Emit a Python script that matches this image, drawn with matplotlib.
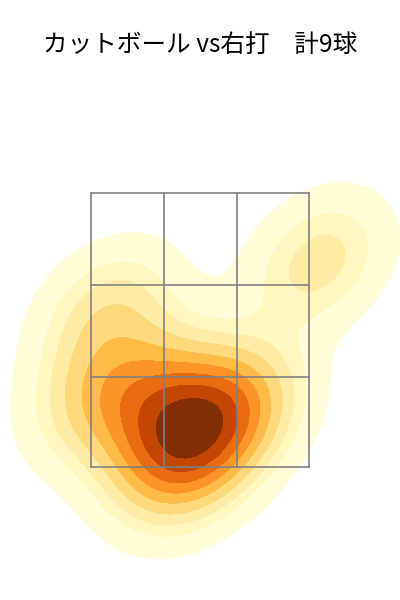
import matplotlib
matplotlib.use("Agg")
import matplotlib.pyplot as plt
import numpy as np
import seaborn as sns

plt.rcParams['font.family'] = ['Noto Sans CJK JP', 'DejaVu Sans']

title = "カットボール vs右打　計9球"
plate_x = [0.90, -0.70, -0.78, -0.41, -0.24, -0.09, 0.07, 0.30, -0.11]
plate_z = [3.00, 2.63, 2.03, 2.06, 1.73, 1.88, 1.73, 1.95, 1.46]
zone_x = [-0.83, -0.275, 0.28, 0.83]
zone_z = [1.5, 2.157, 2.83, 3.5]

fig = plt.figure(figsize=(4, 6), dpi=100)
ax = fig.add_axes([0, 0, 1, 1])
sns.kdeplot(x=plate_x, y=plate_z, fill=True, cmap='YlOrBr', levels=10, thresh=0.05, ax=ax)
ax.set_xlim((0 - 200) / 131.3, (400 - 200) / 131.3)
ax.set_ylim(3.5 - (600 - 193) / 137, 3.5 + 193 / 137)
for v in zone_x:
    ax.plot([v, v], [zone_z[0], zone_z[-1]], color='gray', lw=1.2)
for v in zone_z:
    ax.plot([zone_x[0], zone_x[-1]], [v, v], color='gray', lw=1.2)
ax.axis('off')
fig.text(0.5, 0.926, title, ha='center', va='center', fontsize=17.7, color='black')
fig.savefig('out.png', dpi=100)
